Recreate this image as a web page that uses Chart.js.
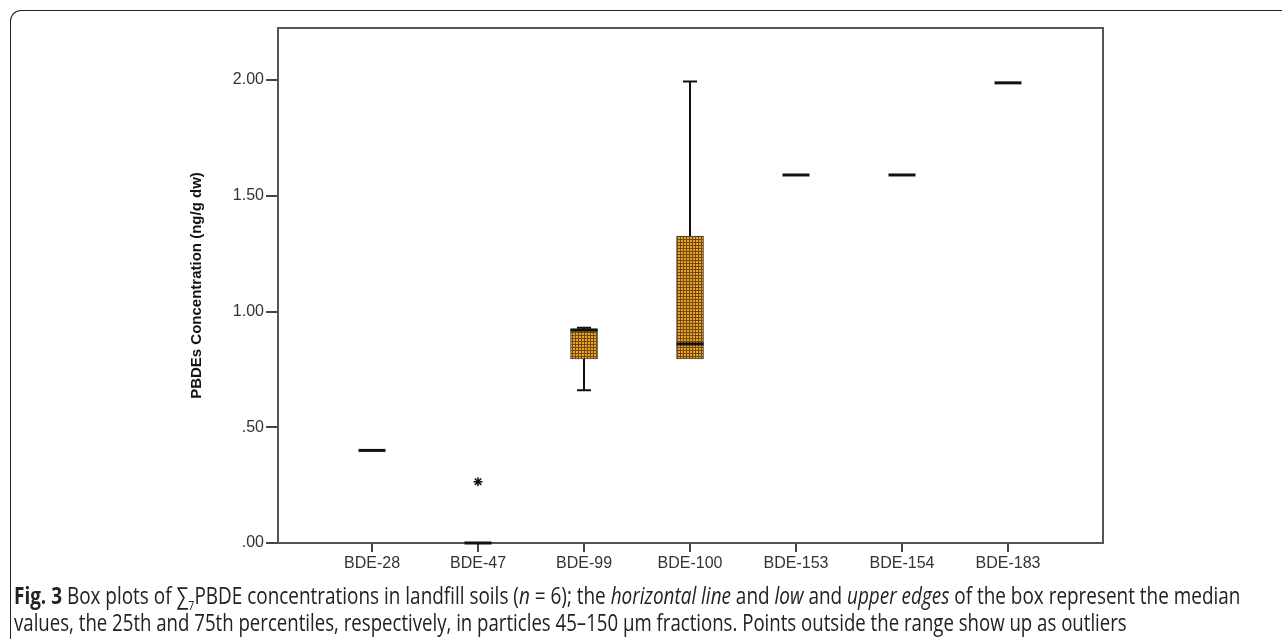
<!DOCTYPE html>
<html>
<head>
<meta charset="utf-8">
<script src="https://cdn.jsdelivr.net/npm/chart.js@4"></script>
<style>
  html, body { margin: 0; padding: 0; background: #fff; }
  #wrap { position: relative; width: 1282px; height: 639px; overflow: hidden; }
  #frame {
    position: absolute; left: 10px; top: 10px; width: 1300px; height: 660px;
    border-left: 1.5px solid #222; border-top: 1.5px solid #222;
    border-top-left-radius: 11px;
  }
  #chart { position: absolute; left: 0; top: 0; }
  .cap {
    position: absolute; left: 14px; white-space: nowrap;
    font-family: "Open Sans", sans-serif; font-size: 23px; color: #222;
    transform-origin: 0 0; line-height: 26px;
  }
  .cap b { font-weight: 700; }
</style>
</head>
<body>
<div id="wrap">
  <div id="frame"></div>
  <canvas id="chart" width="1282" height="639"></canvas>
  <div class="cap" id="cap1" style="top:582px"><b>Fig. 3</b> Box plots of ∑<sub style="font-size:13px">7</sub>PBDE concentrations in landfill soils (<i>n</i> = 6); the <i>horizontal line</i> and <i>low</i> and <i>upper edges</i> of the box represent the median</div>
  <div class="cap" id="cap2" style="top:609px">values, the 25th and 75th percentiles, respectively, in particles 45–150 μm fractions. Points outside the range show up as outliers</div>
</div>
<script>
// данные
const categories = ['BDE-28', 'BDE-47', 'BDE-99', 'BDE-100', 'BDE-153', 'BDE-154', 'BDE-183'];
const minValues    = [0.40, 0.00, 0.66,  0.795, 1.59, 1.59, 1.988];
const q1Values     = [0.40, 0.00, 0.795, 0.795, 1.59, 1.59, 1.988];
const medianValues = [0.40, 0.00, 0.92,  0.86,  1.59, 1.59, 1.988];
const q3Values     = [0.40, 0.00, 0.925, 1.326, 1.59, 1.59, 1.988];
const maxValues    = [0.40, 0.00, 0.93,  1.994, 1.59, 1.59, 1.988];
const outlierCats  = [1];
const outlierVals  = [0.265];
const yTicks = [0, 0.5, 1.0, 1.5, 2.0];

const canvas = document.getElementById('chart');
const ctx = canvas.getContext('2d');

function makeGridPattern() {
    const c = document.createElement('canvas');
    c.width = 3; c.height = 3;
    const p = c.getContext('2d');
    p.fillStyle = '#f2a31c';
    p.fillRect(0, 0, 3, 3);
    p.fillStyle = '#6e4a1a';
    p.fillRect(0, 2, 3, 1);
    p.fillRect(2, 0, 1, 3);
    return ctx.createPattern(c, 'repeat');
}

const BOX_W = 27;

// усы, медианы и рамка графика
const boxPlugin = {
    id: 'boxWhiskers',
    afterDatasetsDraw(chart) {
        const { ctx, scales: { x, y }, chartArea } = chart;
        ctx.save();
        ctx.strokeStyle = '#111';
        categories.forEach((cat, i) => {
            const cx = Math.round(x.getPixelForValue(i));
            const yq1 = y.getPixelForValue(q1Values[i]);
            const yq3 = y.getPixelForValue(q3Values[i]);
            const ymin = y.getPixelForValue(minValues[i]);
            const ymax = y.getPixelForValue(maxValues[i]);
            const ymed = y.getPixelForValue(medianValues[i]);
            ctx.lineWidth = 2;
            if (maxValues[i] > q3Values[i]) {
                ctx.beginPath();
                ctx.moveTo(cx, yq3); ctx.lineTo(cx, ymax);
                ctx.moveTo(cx - 7, ymax); ctx.lineTo(cx + 7, ymax);
                ctx.stroke();
            }
            if (minValues[i] < q1Values[i]) {
                ctx.beginPath();
                ctx.moveTo(cx, yq1); ctx.lineTo(cx, ymin);
                ctx.moveTo(cx - 7, ymin); ctx.lineTo(cx + 7, ymin);
                ctx.stroke();
            }
            ctx.lineWidth = 3;
            ctx.beginPath();
            ctx.moveTo(cx - BOX_W / 2, ymed); ctx.lineTo(cx + BOX_W / 2, ymed);
            ctx.stroke();
        });
        ctx.strokeStyle = '#555';
        ctx.lineWidth = 2;
        ctx.beginPath();
        ctx.moveTo(chartArea.left, chartArea.top);
        ctx.lineTo(chartArea.right, chartArea.top);
        ctx.lineTo(chartArea.right, chartArea.bottom);
        ctx.stroke();
        ctx.restore();
    }
};

const tickFont = { family: '"Liberation Sans", Arial, sans-serif', size: 16 };

new Chart(ctx, {
    type: 'bar',
    data: {
        datasets: [{
            type: 'bar',
            data: categories.map((c, i) => ({ x: i, y: [q1Values[i], q3Values[i]] })),
            backgroundColor: makeGridPattern(),
            borderColor: '#444',
            borderWidth: 1,
            borderSkipped: false,
            barThickness: BOX_W
        }, {
            type: 'scatter',
            data: outlierCats.map((c, i) => ({ x: c, y: outlierVals[i] })),
            pointStyle: 'star',
            radius: 4.5,
            borderColor: '#111',
            borderWidth: 1.5
        }]
    },
    options: {
        responsive: false,
        animation: false,
        devicePixelRatio: 1,
        layout: { padding: { left: 184, top: 28, right: 179, bottom: 0 } },
        plugins: { legend: { display: false }, tooltip: { enabled: false } },
        scales: {
            x: {
                type: 'linear',
                offset: false,
                min: -0.887,
                max: 6.896,
                afterBuildTicks: axis => {
                    axis.ticks = categories.map((c, i) => ({ value: i }));
                },
                afterFit: scale => { scale.height = 96; },
                ticks: {
                    autoSkip: false,
                    font: tickFont,
                    color: '#333',
                    padding: 2,
                    maxRotation: 0,
                    callback: v => categories[v]
                },
                grid: { offset: false, drawOnChartArea: false, drawTicks: true, tickLength: 9, color: '#444', lineWidth: 2 },
                border: { display: true, color: '#555', width: 2 }
            },
            y: {
                min: 0,
                max: 2.225,
                afterBuildTicks: axis => {
                    axis.ticks = yTicks.map(v => ({ value: v }));
                },
                afterFit: scale => { scale.width = 94; },
                ticks: {
                    font: tickFont,
                    color: '#333',
                    padding: 2,
                    callback: v => v.toFixed(2).replace(/^0/, '')
                },
                title: {
                    display: true,
                    text: 'PBDEs Concentration (ng/g dw)',
                    color: '#111',
                    font: { family: '"Liberation Sans", Arial, sans-serif', size: 15, weight: 'bold' },
                    padding: { top: 4, bottom: 0 }
                },
                grid: { drawOnChartArea: false, drawTicks: true, tickLength: 12, color: '#444', lineWidth: 2 },
                border: { display: true, color: '#555', width: 2 }
            }
        }
    },
    plugins: [boxPlugin]
});

// подгонка подписи по ширине
function fitCaption(id, target) {
    const el = document.getElementById(id);
    const w = el.offsetWidth;
    el.style.transform = 'scaleX(' + (target / w) + ')';
}
fitCaption('cap1', 1240 - 14);
fitCaption('cap2', 1127 - 14);
</script>
</body>
</html>
